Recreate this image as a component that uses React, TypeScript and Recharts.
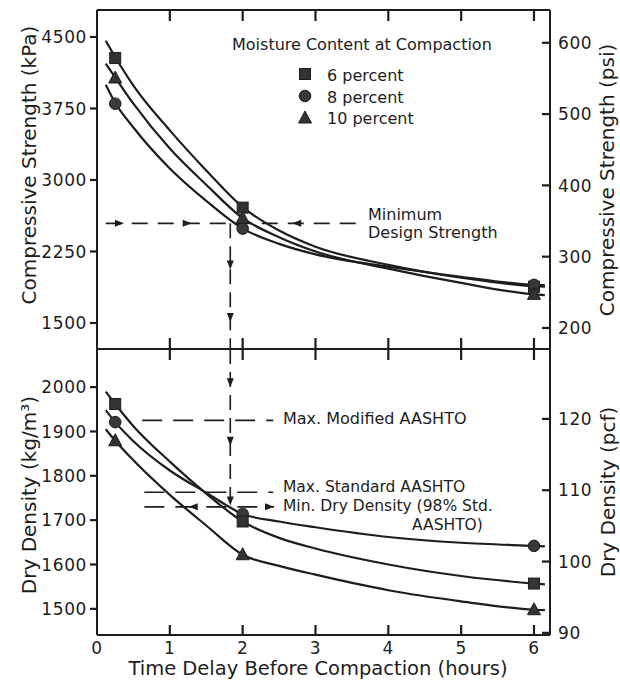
import React from 'react';
import { ComposedChart, Line, Scatter, XAxis, YAxis, ReferenceLine } from 'recharts';

const INK = '#1d1d1d';
const FONT = '"DejaVu Sans", sans-serif';

const curveHours = [0.12, 0.25, 0.5, 1, 1.5, 2, 2.5, 3, 4, 5, 6, 6.15];
// compressive strength curves (kPa)
const strengthCurve6 = [4460, 4290, 3990, 3520, 3100, 2715, 2470, 2300, 2110, 1975, 1885, 1880];
const strengthCurve8 = [4000, 3810, 3550, 3120, 2780, 2490, 2330, 2220, 2090, 1985, 1900, 1895];
const strengthCurve10 = [4220, 4075, 3800, 3330, 2950, 2600, 2400, 2250, 2070, 1920, 1800, 1792];
// dry density curves (kg/m3)
const densityCurve6 = [1990, 1962, 1912, 1832, 1760, 1697, 1660, 1636, 1600, 1574, 1557, 1555];
const densityCurve8 = [1948, 1921, 1878, 1812, 1762, 1714, 1697, 1684, 1662, 1649, 1642, 1641];
const densityCurve10 = [1905, 1879, 1835, 1757, 1688, 1622, 1597, 1577, 1542, 1517, 1498, 1497];

// measured points
const testHours = [0.25, 2, 6];
const strength6 = [4280, 2710, 1880];
const strength8 = [3800, 2490, 1900];
const strength10 = [4070, 2600, 1800];
const density6 = [1962, 1697, 1557];
const density8 = [1921, 1714, 1642];
const density10 = [1879, 1622, 1498];

// axes
const hourTicks = [0, 1, 2, 3, 4, 5, 6];
const innerHourTicks = [1, 2, 3, 4, 5, 6];
const kpaTicks = [1500, 2250, 3000, 3750, 4500];
const psiTicks = [200, 300, 400, 500, 600];
const densityTicks = [1500, 1600, 1700, 1800, 1900, 2000];
const pcfTicks = [90, 100, 110, 120];

const xDomain: [number, number] = [0, 6.22];
const kpaDomain: [number, number] = [1227, 4783];
const psiDomain: [number, number] = [170.5, 646];
const kgDomain: [number, number] = [1441, 2086];
const pcfDomain: [number, number] = [89.7, 129.8];

// design limits
const minDesignStrength = 2545;
const maxModifiedAashto = 1925;
const maxStandardAashto = 1763;
const minDryDensity = 1730;
const delayAtLimit = 1.83;

const strengthArrows = [
  { t: 0.37, v: minDesignStrength, dir: 'right' },
  { t: 1.3, v: minDesignStrength, dir: 'right' },
  { t: 2.68, v: minDesignStrength, dir: 'left' },
  { t: delayAtLimit, v: 2061, dir: 'down' },
  { t: delayAtLimit, v: 1510, dir: 'down' },
];
const densityArrows = [
  { t: delayAtLimit, v: 2000, dir: 'down' },
  { t: delayAtLimit, v: 1868, dir: 'down' },
  { t: delayAtLimit, v: 1733, dir: 'down' },
  { t: 1.26, v: minDryDensity, dir: 'left' },
  { t: 2.43, v: minDryDensity, dir: 'right' },
];

const rows = (xs: number[], vs: number[]) => xs.map((t, i) => ({ t, v: vs[i] }));

// plot box sizes in px, used to turn tick lengths into data units
const PLOT_W = 453;
const TOP_H = 339;
const BOT_H = 286;
const span = (d: [number, number]) => d[1] - d[0];
const hrPx = span(xDomain) / PLOT_W;

const Square = ({ cx, cy }: any) => (
  <rect x={cx - 5.5} y={cy - 5.5} width={11} height={11} fill="#333" stroke={INK} strokeWidth={1} />
);
const Dot = ({ cx, cy }: any) => <circle cx={cx} cy={cy} r={5.8} fill="#383838" stroke={INK} strokeWidth={1} />;
const Tri = ({ cx, cy }: any) => (
  <polygon points={`${cx},${cy - 7} ${cx + 6.5},${cy + 5} ${cx - 6.5},${cy + 5}`} fill="#333" stroke={INK} strokeWidth={1} />
);

const Arrow = ({ cx, cy, payload }: any) => {
  const L = 9;
  const W = 3.5;
  let pts = '';
  if (payload.dir === 'right') pts = `${cx},${cy} ${cx - L},${cy - W} ${cx - L},${cy + W}`;
  if (payload.dir === 'left') pts = `${cx},${cy} ${cx + L},${cy - W} ${cx + L},${cy + W}`;
  if (payload.dir === 'down') pts = `${cx},${cy} ${cx - W},${cy - L} ${cx + W},${cy - L}`;
  return <polygon points={pts} fill={INK} />;
};

const tickText = { fontSize: 17, fill: INK, fontFamily: FONT, letterSpacing: 0.6 };

const LeftLabel = ({ x, y, payload }: any) => (
  <text x={x} y={y} dy="0.36em" textAnchor="end" {...tickText}>{payload.value}</text>
);
const RightLabel = ({ x, y, payload }: any) => (
  <text x={x} y={y} dy="0.36em" textAnchor="start" {...tickText}>{payload.value}</text>
);
const BottomLabel = ({ x, y, payload }: any) => (
  <text x={x} y={y} dy="0.36em" textAnchor="middle" {...tickText}>{payload.value}</text>
);

const axisLine = { stroke: INK, strokeWidth: 2 };
const curveStyle = { stroke: INK, strokeWidth: 2.2, dot: false, type: 'monotone' as const, isAnimationActive: false };

// frame tick marks drawn as short segments on the panel's own scales
const frameTicks = (yId: string, rightId: string, yDom: [number, number], rDom: [number, number], plotH: number,
  leftTicks: number[], rightTicks: number[], topLen: number, bottomLen: number) => {
  const yPx = span(yDom) / plotH;
  const seg = (key: string, axis: string, a: any, b: any) => (
    <ReferenceLine key={key} xAxisId="x" yAxisId={axis} ifOverflow="visible" stroke={INK} strokeWidth={2.2} segment={[a, b]} />
  );
  return [
    ...innerHourTicks.map(h => seg(`t${h}`, yId, { x: h, y: yDom[1] }, { x: h, y: yDom[1] - topLen * yPx })),
    ...innerHourTicks.map(h => seg(`b${h}`, yId, { x: h, y: yDom[0] }, { x: h, y: yDom[0] + bottomLen * yPx })),
    ...leftTicks.map(v => seg(`l${v}`, yId, { x: 0, y: v }, { x: -7 * hrPx, y: v })),
    ...rightTicks.map(v => seg(`r${v}`, rightId, { x: xDomain[1], y: v }, { x: xDomain[1] - 8 * hrPx, y: v })),
  ];
};

const label = { fontFamily: FONT, fontSize: 16, fill: INK };
const smallLabel = { fontFamily: FONT, fontSize: 15.5, fill: INK };
const title = { fontFamily: FONT, fontSize: 20, fill: INK };

export default function App() {
  return (
    <div style={{ position: 'absolute', left: 0, top: 0, width: 620, height: 681, background: '#fff' }}>
      <div style={{ position: 'absolute', left: 0, top: 0 }}>
        <ComposedChart width={620} height={350} margin={{ top: 9, right: 0, bottom: 0, left: 0 }}>
          <XAxis xAxisId="x" dataKey="t" type="number" domain={xDomain} allowDataOverflow height={1}
            ticks={innerHourTicks} interval={0} tickLine={false} axisLine={axisLine} tick={false} />
          <XAxis xAxisId="top" orientation="top" type="number" domain={xDomain} allowDataOverflow height={1}
            ticks={innerHourTicks} interval={0} tickLine={false} axisLine={axisLine} tick={false} />
          <YAxis yAxisId="kpa" orientation="left" width={97} type="number" domain={kpaDomain} allowDataOverflow
            ticks={kpaTicks} interval={0} tickSize={7} tickMargin={3} tickLine={false} axisLine={axisLine} tick={<LeftLabel />} />
          <YAxis yAxisId="psi" orientation="right" width={70} type="number" domain={psiDomain} allowDataOverflow
            ticks={psiTicks} interval={0} tickSize={-8} tickMargin={16} tickLine={false} axisLine={axisLine} tick={<RightLabel />} />

          {frameTicks('kpa', 'psi', kpaDomain, psiDomain, TOP_H, kpaTicks, psiTicks, 11, 11)}

          <ReferenceLine xAxisId="x" yAxisId="kpa" ifOverflow="visible" stroke={INK} strokeWidth={1.6} strokeDasharray="16 10"
            segment={[{ x: 0.12, y: minDesignStrength }, { x: 3.56, y: minDesignStrength }]} />
          <ReferenceLine xAxisId="x" yAxisId="kpa" ifOverflow="visible" stroke={INK} strokeWidth={1.6} strokeDasharray="15 8"
            segment={[{ x: delayAtLimit, y: minDesignStrength }, { x: delayAtLimit, y: kpaDomain[0] }]} />

          <Line xAxisId="x" yAxisId="kpa" data={rows(curveHours, strengthCurve6)} dataKey="v" {...curveStyle} />
          <Line xAxisId="x" yAxisId="kpa" data={rows(curveHours, strengthCurve8)} dataKey="v" {...curveStyle} />
          <Line xAxisId="x" yAxisId="kpa" data={rows(curveHours, strengthCurve10)} dataKey="v" {...curveStyle} />
          <Scatter xAxisId="x" yAxisId="kpa" data={rows(testHours, strength6)} dataKey="v" shape={<Square />} isAnimationActive={false} />
          <Scatter xAxisId="x" yAxisId="kpa" data={rows(testHours, strength8)} dataKey="v" shape={<Dot />} isAnimationActive={false} />
          <Scatter xAxisId="x" yAxisId="kpa" data={rows(testHours, strength10)} dataKey="v" shape={<Tri />} isAnimationActive={false} />
          <Scatter xAxisId="x" yAxisId="kpa" data={strengthArrows} dataKey="v" shape={<Arrow />} isAnimationActive={false} />
        </ComposedChart>
      </div>

      <div style={{ position: 'absolute', left: 0, top: 339 }}>
        <ComposedChart width={620} height={342} margin={{ top: 9, right: 0, bottom: 0, left: 0 }}>
          <XAxis xAxisId="x" dataKey="t" type="number" domain={xDomain} allowDataOverflow height={46}
            ticks={hourTicks} interval={0} tickSize={-10} tickMargin={23} tickLine={false} axisLine={axisLine} tick={<BottomLabel />} />
          <XAxis xAxisId="top" orientation="top" type="number" domain={xDomain} allowDataOverflow height={1}
            ticks={innerHourTicks} interval={0} tickLine={false} axisLine={axisLine} tick={false} />
          <YAxis yAxisId="kg" orientation="left" width={97} type="number" domain={kgDomain} allowDataOverflow
            ticks={densityTicks} interval={0} tickSize={7} tickMargin={3} tickLine={false} axisLine={axisLine} tick={<LeftLabel />} />
          <YAxis yAxisId="pcf" orientation="right" width={70} type="number" domain={pcfDomain} allowDataOverflow
            ticks={pcfTicks} interval={0} tickSize={-8} tickMargin={16} tickLine={false} axisLine={axisLine} tick={<RightLabel />} />

          {frameTicks('kg', 'pcf', kgDomain, pcfDomain, BOT_H, densityTicks, pcfTicks, 11, 10)}

          <ReferenceLine xAxisId="x" yAxisId="kg" ifOverflow="visible" stroke={INK} strokeWidth={1.6} strokeDasharray="20 11"
            segment={[{ x: 0.62, y: maxModifiedAashto }, { x: 2.42, y: maxModifiedAashto }]} />
          <ReferenceLine xAxisId="x" yAxisId="kg" ifOverflow="visible" stroke={INK} strokeWidth={1.6} strokeDasharray="20 11"
            segment={[{ x: 0.65, y: maxStandardAashto }, { x: 2.42, y: maxStandardAashto }]} />
          <ReferenceLine xAxisId="x" yAxisId="kg" ifOverflow="visible" stroke={INK} strokeWidth={1.6} strokeDasharray="20 11"
            segment={[{ x: 0.65, y: minDryDensity }, { x: 2.43, y: minDryDensity }]} />
          <ReferenceLine xAxisId="x" yAxisId="kg" ifOverflow="visible" stroke={INK} strokeWidth={1.6} strokeDasharray="15 8"
            segment={[{ x: delayAtLimit, y: kgDomain[1] }, { x: delayAtLimit, y: minDryDensity }]} />

          <Line xAxisId="x" yAxisId="kg" data={rows(curveHours, densityCurve6)} dataKey="v" {...curveStyle} />
          <Line xAxisId="x" yAxisId="kg" data={rows(curveHours, densityCurve8)} dataKey="v" {...curveStyle} />
          <Line xAxisId="x" yAxisId="kg" data={rows(curveHours, densityCurve10)} dataKey="v" {...curveStyle} />
          <Scatter xAxisId="x" yAxisId="kg" data={rows(testHours, density8)} dataKey="v" shape={<Dot />} isAnimationActive={false} />
          <Scatter xAxisId="x" yAxisId="kg" data={rows(testHours, density6)} dataKey="v" shape={<Square />} isAnimationActive={false} />
          <Scatter xAxisId="x" yAxisId="kg" data={rows(testHours, density10)} dataKey="v" shape={<Tri />} isAnimationActive={false} />
          <Scatter xAxisId="x" yAxisId="kg" data={densityArrows} dataKey="v" shape={<Arrow />} isAnimationActive={false} />
        </ComposedChart>
      </div>

      {/* titles, legend and annotation text */}
      <svg width={620} height={681} style={{ position: 'absolute', left: 0, top: 0, pointerEvents: 'none' }}>
        <text transform="translate(29,165) rotate(-90)" dy="0.36em" textAnchor="middle" {...title}>Compressive Strength (kPa)</text>
        <text transform="translate(607,180) rotate(-90)" dy="0.36em" textAnchor="middle" {...title}>Compressive Strength  (psi)</text>
        <text transform="translate(29,495) rotate(-90)" dy="0.36em" textAnchor="middle" {...title}>Dry Density (kg/m³)</text>
        <text transform="translate(608,492) rotate(-90)" dy="0.36em" textAnchor="middle" {...title}>Dry Density (pcf)</text>
        <text x={318} y={668} dy="0.36em" textAnchor="middle" {...title} fontSize={19.5}>Time Delay Before Compaction (hours)</text>

        <text x={232} y={50} {...label}>Moisture Content at Compaction</text>
        <Square cx={305} cy={74} />
        <Dot cx={305} cy={96} />
        <Tri cx={305} cy={118} />
        <text x={327} y={81} {...label}>6 percent</text>
        <text x={327} y={103} {...label}>8 percent</text>
        <text x={327} y={124} {...label}>10 percent</text>

        <text x={368} y={220} {...label}>Minimum</text>
        <text x={368} y={238} {...label}>Design Strength</text>

        <text x={283} y={424} {...label}>Max. Modified AASHTO</text>
        <text x={283} y={492} {...smallLabel}>Max. Standard AASHTO</text>
        <text x={283} y={511} {...smallLabel}>Min. Dry Density (98% Std.</text>
        <text x={412} y={530} {...smallLabel}>AASHTO)</text>
      </svg>
    </div>
  );
}
